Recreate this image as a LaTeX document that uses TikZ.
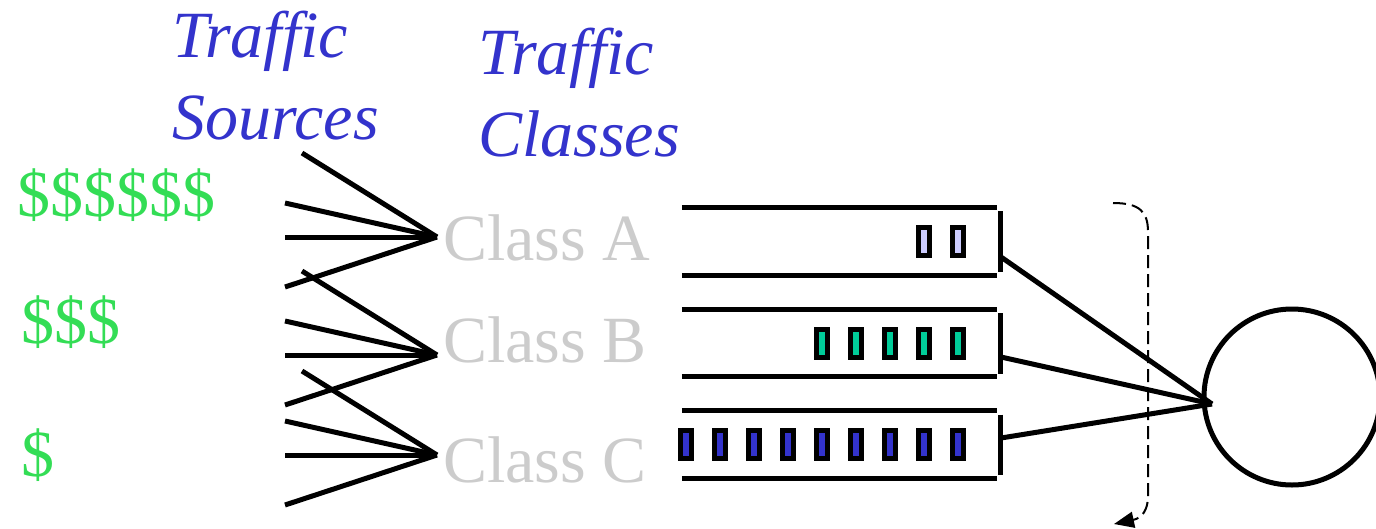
\documentclass[tikz,border=0pt]{standalone}
\usepackage{fontspec}
\setmainfont{Liberation Serif}
\usepackage{tikz}
\usetikzlibrary{arrows.meta,positioning,calc}
\newcommand{\bigtext}{\fontsize{66}{82}\selectfont}
\definecolor{titleblue}{RGB}{51,51,204}
\definecolor{moneygreen}{RGB}{51,221,85}
\definecolor{classgray}{RGB}{204,204,204}
\definecolor{pktA}{RGB}{204,204,255}
\definecolor{pktB}{RGB}{0,204,153}
\definecolor{pktC}{RGB}{51,51,204}
\tikzstyle{titletext} = [text=titleblue, font=\bigtext\itshape, align=left, inner sep=0pt, text depth=0pt, anchor=south west]
\tikzstyle{moneytext} = [text=moneygreen, font=\bigtext, inner sep=0pt, anchor=base west]
\tikzstyle{classtext} = [text=classgray, font=\bigtext, inner sep=0pt, anchor=base west]
\tikzstyle{feed} = [line width=5pt]
\tikzstyle{qline} = [line width=5pt]
\tikzstyle{queue} = [rectangle, minimum width=315pt, minimum height=67.5pt, inner sep=0pt]
\tikzstyle{packet} = [draw, line width=5pt, rectangle, minimum width=11pt, minimum height=28pt, inner sep=0pt]

\begin{document}
\begin{tikzpicture}[x=1pt,y=-1pt]
\useasboundingbox (0,0) rectangle (1376,528);
% headings
\node[titletext] (sources) at (172,140) {Traffic\\Sources};
\node[titletext] (classes) at (478,157) {Traffic\\Classes};
% prices
\node[moneytext] (m1) at (17,216) {\$\$\$\$\$\$};
\node[moneytext] (m2) at (21,343) {\$\$\$};
\node[moneytext] (m3) at (21,476) {\$};
% classes and their sources
\node[classtext] (clA) at (443,260) {Class A};
\node[classtext] (clB) at (443,362) {Class B};
\node[classtext] (clC) at (443,482) {Class C};
\foreach \c/\y in {A/237,B/355,C/455}{
  \coordinate (c\c) at (437,\y);
  \coordinate (s\c1) at (302,\y-84);
  \coordinate (s\c2) at (285,\y-34);
  \coordinate (s\c3) at (285,\y);
  \coordinate (s\c4) at (285,\y+50);
  \foreach \k in {1,...,4} \draw[feed] (s\c\k) -- (c\c);
}
% queues
\node[queue] (qA) at (839.5,241.25) {};
\node[queue] (qB) at (839.5,343) {};
\node[queue] (qC) at (839.5,444.5) {};
\foreach \q in {qA,qB,qC}{
  \draw[qline] (\q.north west) -- (\q.north east);
  \draw[qline] (\q.south west) -- (\q.south east);
  \draw[qline] ([shift={(3pt,-4pt)}]\q.north east) -- ([shift={(3pt,3pt)}]\q.south east);
}
% packets
\foreach \k in {0,1} \node[packet, fill=pktA] (pA\k) at (958-34*\k,241.25) {};
\foreach \k in {0,...,4} \node[packet, fill=pktB] (pB\k) at (958-34*\k,343) {};
\foreach \k in {0,...,8} \node[packet, fill=pktC] (pC\k) at (958-34*\k,444.5) {};
% server
\node[circle, draw, line width=5pt, minimum size=176pt, inner sep=0pt] (server) at (1292,397) {};
\coordinate (srv) at (1212,404);
\coordinate (oA) at (1001,257);
\coordinate (oB) at (1001,357);
\coordinate (oC) at (1001,438);
\foreach \o in {oA,oB,oC} \draw[feed] (\o) -- (srv);
% scheduler sweep
\coordinate (dtop) at (1113,203);
\coordinate (dend) at (1114,524);
\draw[line width=2pt, dash pattern=on 13pt off 6pt, -{Triangle[length=20pt,width=16pt]}]
  (dtop) .. controls (1140,203) and (1148,212) .. (1148,232) -- (1148,496)
  .. controls (1148,510) and (1142,518) .. (dend);
\end{tikzpicture}
\end{document}
